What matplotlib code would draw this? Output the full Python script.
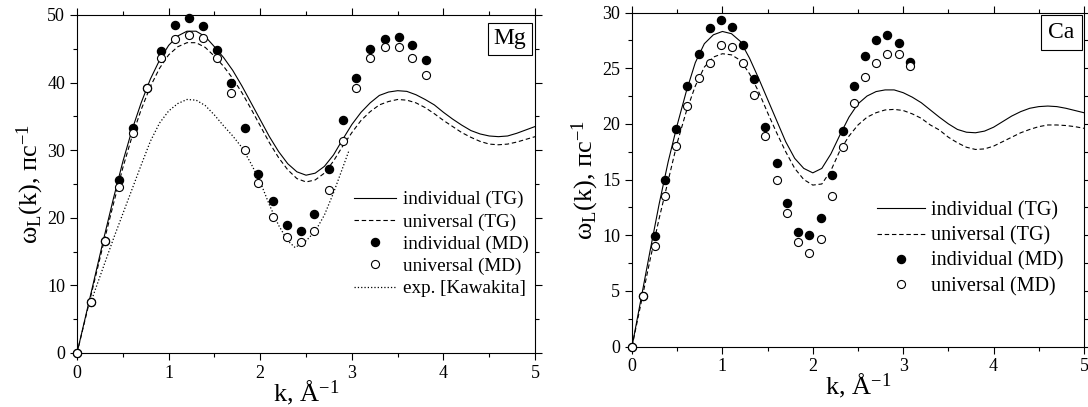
import matplotlib
matplotlib.use('Agg')
import matplotlib.pyplot as plt
from matplotlib.ticker import MultipleLocator

plt.rcParams['font.family'] = ['Liberation Serif', 'DejaVu Serif']
plt.rcParams['mathtext.fontset'] = 'custom'
plt.rcParams['mathtext.rm'] = 'Liberation Serif'
plt.rcParams['mathtext.it'] = 'Liberation Serif'

## Mg: theory curves (TG), exp. curve and MD points
mg_k_line = [0.0, 0.1, 0.2, 0.3, 0.4, 0.5, 0.6, 0.7, 0.8, 0.9, 1.0, 1.1, 1.2, 1.3, 1.4, 1.5, 1.6, 1.7,
             1.8, 1.9, 2.0, 2.1, 2.2, 2.3, 2.4, 2.5, 2.6, 2.7, 2.8, 2.9, 3.0, 3.1, 3.2, 3.3, 3.4, 3.5,
             3.6, 3.7, 3.8, 3.9, 4.0, 4.1, 4.2, 4.3, 4.4, 4.5, 4.6, 4.7, 4.8, 4.9, 5.0]
mg_ind_tg = [0.0, 5.8, 11.6, 17.4, 23.0, 28.3, 33.0, 37.0, 40.5, 43.3, 45.5, 46.9, 47.6, 47.6, 46.8,
             45.3, 43.7, 41.8, 39.5, 37.0, 34.5, 32.0, 29.8, 28.0, 26.8, 26.3, 26.6, 27.6, 29.3, 31.6,
             33.8, 35.6, 37.0, 38.1, 38.6, 38.8, 38.7, 38.2, 37.5, 36.7, 35.6, 34.6, 33.7, 32.9, 32.4,
             32.1, 32.0, 32.1, 32.5, 33.0, 33.5]
mg_uni_tg = [0.0, 5.6, 11.2, 16.8, 22.2, 27.4, 32.0, 36.0, 39.4, 42.1, 44.1, 45.3, 45.9, 45.9, 45.2,
             43.9, 42.4, 40.6, 38.5, 36.1, 33.6, 31.1, 28.9, 27.1, 25.8, 25.3, 25.6, 26.6, 28.4, 30.6,
             32.6, 34.4, 35.7, 36.7, 37.2, 37.5, 37.4, 37.0, 36.3, 35.4, 34.4, 33.5, 32.6, 31.9, 31.3,
             30.9, 30.8, 30.9, 31.2, 31.6, 32.0]

mg_k_exp = [0.15, 0.2, 0.3, 0.4, 0.5, 0.6, 0.7, 0.8, 0.9, 1.0, 1.1, 1.2, 1.3, 1.4, 1.5, 1.6, 1.7, 1.8,
            1.9, 2.0, 2.1, 2.2, 2.3, 2.38, 2.5, 2.6, 2.7, 2.8, 2.9, 2.97]
mg_exp = [7.5, 9.4, 13.2, 17.0, 20.6, 24.2, 27.8, 31.3, 34.0, 35.8, 36.9, 37.5, 37.4, 36.6, 35.2, 33.6,
          32.1, 30.4, 28.0, 25.3, 21.9, 18.9, 16.6, 15.6, 16.6, 18.0, 20.4, 23.7, 27.4, 30.0]

mg_k_md = [0.0, 0.15, 0.31, 0.46, 0.61, 0.76, 0.92, 1.07, 1.22, 1.37, 1.53, 1.68, 1.83, 1.98, 2.14,
           2.29, 2.44, 2.59, 2.75, 2.90, 3.05, 3.20, 3.36, 3.51, 3.66, 3.81]
mg_ind_md = [0.0, 7.5, 16.6, 25.6, 33.3, 39.2, 44.7, 48.5, 49.5, 48.4, 44.8, 40.0, 33.3, 26.5, 22.5,
             19.0, 18.1, 20.5, 27.2, 34.4, 40.7, 44.9, 46.4, 46.8, 45.6, 43.3]
mg_uni_md = [0.0, 7.5, 16.6, 24.6, 32.6, 39.2, 43.7, 46.5, 47.1, 46.6, 43.7, 38.5, 30.1, 25.1, 20.1,
             17.1, 16.4, 18.1, 24.1, 31.3, 39.2, 43.7, 45.2, 45.2, 43.7, 41.1]

## Ca
ca_k_line = mg_k_line
ca_ind_tg = [0.0, 4.3, 8.6, 12.8, 16.6, 19.9, 22.9, 25.5, 27.2, 28.0, 28.3, 28.1, 27.4, 25.9, 24.1,
             22.2, 20.3, 18.4, 16.9, 16.0, 15.6, 16.0, 17.3, 19.0, 20.6, 21.8, 22.5, 22.9, 23.05, 23.05,
             22.8, 22.4, 21.9, 21.25, 20.6, 20.0, 19.5, 19.25, 19.2, 19.35, 19.7, 20.2, 20.7, 21.1,
             21.4, 21.55, 21.6, 21.55, 21.4, 21.2, 21.0]
ca_uni_tg = [0.0, 3.9, 7.8, 11.5, 14.9, 18.3, 21.1, 23.4, 25.1, 26.0, 26.3, 26.2, 25.7, 24.5, 22.9,
             21.0, 19.2, 17.5, 16.0, 15.0, 14.5, 14.6, 15.8, 17.6, 18.9, 19.9, 20.6, 21.0, 21.25, 21.3,
             21.2, 20.9, 20.5, 19.9, 19.45, 18.8, 18.3, 17.9, 17.7, 17.75, 18.0, 18.4, 18.8, 19.2,
             19.5, 19.75, 19.9, 19.9, 19.85, 19.75, 19.6]

ca_k_md = [0.0, 0.12, 0.25, 0.37, 0.49, 0.61, 0.74, 0.86, 0.98, 1.11, 1.23, 1.35, 1.47, 1.60, 1.72,
           1.84, 1.96, 2.09, 2.21, 2.33, 2.46, 2.58, 2.70, 2.82, 2.95, 3.07]
ca_ind_md = [0.0, 4.5, 9.9, 15.0, 19.5, 23.4, 26.3, 28.6, 29.3, 28.7, 27.1, 24.0, 19.7, 16.5, 12.9,
             10.3, 10.0, 11.5, 15.4, 19.4, 23.4, 26.1, 27.5, 28.0, 27.3, 25.6]
ca_uni_md = [0.0, 4.5, 9.0, 13.5, 18.0, 21.6, 24.1, 25.5, 27.1, 26.9, 25.5, 22.6, 18.9, 15.0, 12.0,
             9.4, 8.4, 9.7, 13.5, 17.9, 21.9, 24.2, 25.5, 26.3, 26.3, 25.2]


fig = plt.figure(figsize=(10.88, 4.07), dpi=100, facecolor='white')
ax_mg = fig.add_axes([0.0708, 0.1327, 0.421, 0.8305])
ax_ca = fig.add_axes([0.5809, 0.1486, 0.4154, 0.8206])

def draw_panel(ax, k_line, ind_tg, uni_tg, k_md, ind_md, uni_md, ymax, ymaj):
    ax.plot(k_line, ind_tg, '-', color='black', lw=0.8, label='individual (TG)')
    ax.plot(k_line, uni_tg, '--', color='black', lw=0.8, dashes=(4, 2.5), label='universal (TG)')
    ax.plot(k_md, ind_md, 'o', color='black', ms=5.8, label='individual (MD)', clip_on=False, zorder=3)
    ax.plot(k_md, uni_md, 'o', mfc='white', mec='black', mew=0.8, ms=5.8,
            label='universal (MD)', clip_on=False, zorder=4)
    ax.set_xlim(0, 5)
    ax.set_ylim(0, ymax)
    ax.xaxis.set_major_locator(MultipleLocator(1))
    ax.xaxis.set_minor_locator(MultipleLocator(0.5))
    ax.yaxis.set_major_locator(MultipleLocator(ymaj))
    ax.yaxis.set_minor_locator(MultipleLocator(ymaj / 2))
    ax.tick_params(which='both', direction='out', top=True, right=True, labelsize=13, width=0.8)
    ax.tick_params(which='major', length=5)
    ax.tick_params(which='minor', length=3)
    for s in ax.spines.values():
        s.set_linewidth(0.8)
    ax.set_xlabel('k, Å$^{-1}$', fontsize=19, labelpad=-3)
    ax.set_ylabel('ω$_\\mathrm{L}$(k), пс$^{-1}$', fontsize=19, labelpad=1)

draw_panel(ax_mg, mg_k_line, mg_ind_tg, mg_uni_tg, mg_k_md, mg_ind_md, mg_uni_md, 50, 10)
ax_mg.plot(mg_k_exp, mg_exp, ':', color='black', lw=0.9, label='exp. [Kawakita]', zorder=1)
draw_panel(ax_ca, ca_k_line, ca_ind_tg, ca_uni_tg, ca_k_md, ca_ind_md, ca_uni_md, 30, 5)

ax_mg.legend(loc='center', bbox_to_anchor=(0.795, 0.322), frameon=False, fontsize=13.8,
             handlelength=2.2, handletextpad=0.35, labelspacing=0.25, borderpad=0)
ax_ca.legend(loc='center', bbox_to_anchor=(0.748, 0.293), frameon=False, fontsize=14.5,
             handlelength=2.4, handletextpad=0.3, labelspacing=0.3, borderpad=0)

ax_mg.text(0.945, 0.929, 'Mg', transform=ax_mg.transAxes, ha='center', va='center', fontsize=17,
           bbox=dict(boxstyle='square,pad=0.25', fc='white', ec='black', lw=0.8))
ax_ca.text(0.950, 0.940, 'Ca', transform=ax_ca.transAxes, ha='center', va='center', fontsize=17,
           bbox=dict(boxstyle='square,pad=0.3', fc='white', ec='black', lw=0.8))

plt.savefig('out.png', dpi=100)
